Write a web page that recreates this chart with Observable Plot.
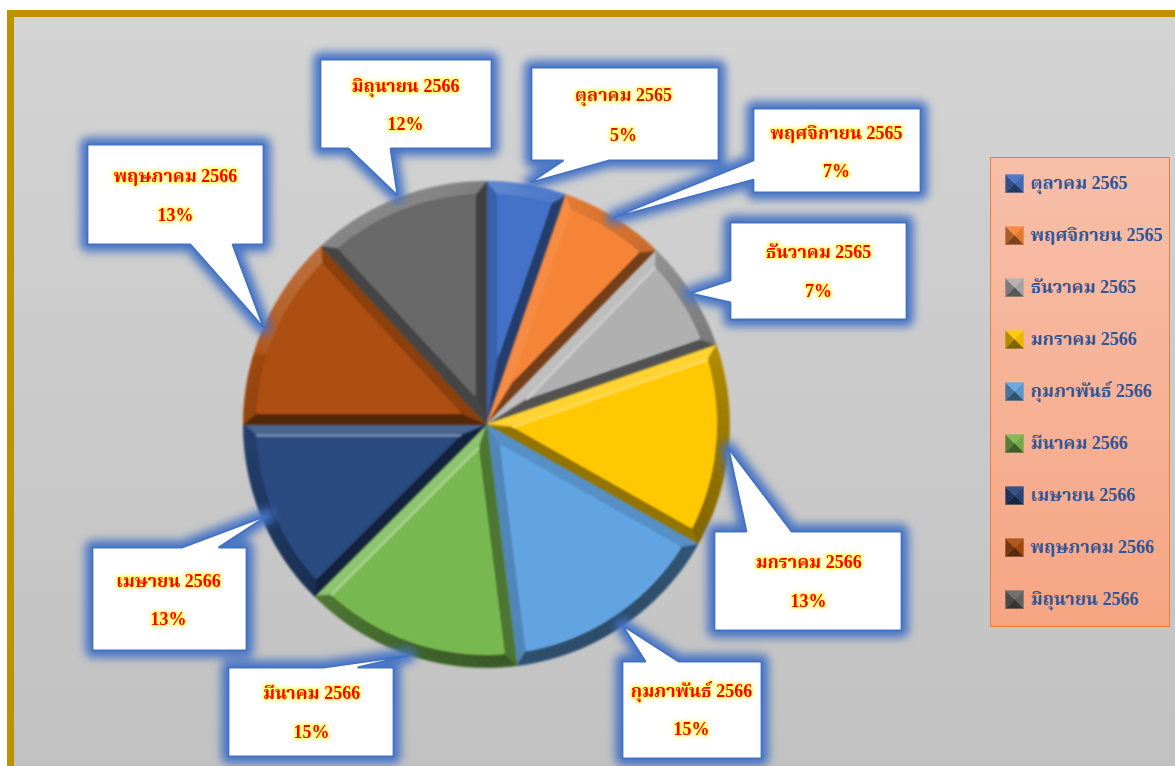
<!DOCTYPE html>
<html><head><meta charset="utf-8">
<script src="https://cdn.jsdelivr.net/npm/d3@7"></script>
<script src="https://cdn.jsdelivr.net/npm/@observablehq/plot@0.6"></script>
<style>
html,body{margin:0;padding:0;background:#fff;overflow:hidden}
#stage{position:relative;width:1175px;height:766px;overflow:hidden}
#frame{position:absolute;left:7px;top:10px;width:1200px;height:800px;border-left:7px solid #bf9000;border-top:7px solid #bf9000;background:linear-gradient(180deg,#d4d4d4,#c0c0c0)}
#legendbg{position:absolute;left:990px;top:157px;width:178px;height:468px;border:1.5px solid #ed7d31;background:linear-gradient(180deg,#f7bfa9,#f6a583)}
#stage svg{position:absolute;left:0;top:0;background:transparent}
</style></head><body>
<div id="stage"><div id="frame"></div><div id="legendbg"></div></div>
<script>
const months = ["ตุลาคม 2565","พฤศจิกายน 2565","ธันวาคม 2565","มกราคม 2566","กุมภาพันธ์ 2566","มีนาคม 2566","เมษายน 2566","พฤษภาคม 2566","มิถุนายน 2566"];
const legendMonths = ["ตุลาคม 2565","พฤศจิกายน 2565","ธันวาคม 2565","มกราคม 2566","กุมภาพันธ์ 2566","มีนาคม 2566","เมษายน 2566","พฤษภาคม 2566","มิถุนายน 2566"];
const shares = [5.3,7.0,7.4,13.5,14.8,14.5,12.5,13.1,11.9];
const percentLabels = ["5%","7%","7%","13%","15%","15%","13%","13%","12%"];
const colors = ["#4472c8","#f58437","#b0b0b0","#ffc800","#62a4e2","#78b850","#2a4a80","#ad4f12","#696969"];

// Layout, in page pixels
const pie = {cx:486, cy:424, r:243, edge:11, rim:13};
const boxes = [
 {l:531,t:67,r:718,b:160,tail:[[608,160],[530,182],[563,160]],side:"b"},
 {l:753,t:108,r:920,b:192,tail:[[753,160],[613,217],[753,179]],side:"l"},
 {l:730,t:222,r:906,b:319,tail:[[730,280],[690,293],[730,302]],side:"l"},
 {l:714,t:531,r:901,b:630,tail:[[746,531],[728,448],[791,531]],side:"t"},
 {l:622,t:661,r:761,b:758,tail:[[645,661],[622,625],[678,661]],side:"t"},
 {l:228,t:667,r:393,b:756,tail:[[323,667],[408,655],[357,667]],side:"t"},
 {l:92,t:547,r:246,b:650,tail:[[182,547],[267,515],[218,547]],side:"t"},
 {l:87,t:144,r:263,b:244,tail:[[232,244],[263,327],[190,244]],side:"b"},
 {l:320,t:59,r:491,b:148,tail:[[390,148],[397,195],[348,148]],side:"b"}
];
const labelPos = [[623,95,135],[836,133,171],[818,252,291],[808,562,601],[691,691,729],[311,693,732],[168,581,619],[175,176,215],[405,86,124]];
const legendLayout = {swatchX:1005, swatchSize:18, textX:1030, firstY:183, stepY:52};

// Shading helpers
const L = {x:-0.45, y:-0.89};
function tone(c, t){ return t>=0 ? d3.interpolateRgb(c,"#fff")(t) : d3.interpolateRgb(c,"#000")(-t); }
function shadeAmt(s){ return s>=0.7 ? 0.05+(s-0.7)*0.5 : -0.08+(s-0.7)*0.27; }
const dot = (nx,ny)=>nx*L.x+ny*L.y;
const P = (a,r)=>[pie.cx+Math.sin(a)*r, pie.cy-Math.cos(a)*r];

const faceRows=[], bandRows=[], highlightRows=[];
let cum=0, total=d3.sum(shares), gid=0;
function poly(target, pts, fill){ const id=gid++; pts.forEach(p=>target.push({id,x:p[0],y:p[1],fill})); }
shares.forEach((v,i)=>{
  const a0=cum/total*2*Math.PI; cum+=v; const a1=cum/total*2*Math.PI;
  const c=colors[i], R=pie.r, Ri=R-pie.rim, w=pie.edge;
  const d=Math.asin(w/Ri), half=(a1-a0)/2, mid=(a0+a1)/2;
  const apex=P(mid, w/Math.sin(half)), O=[pie.cx,pie.cy];
  const n=Math.max(8,Math.ceil((a1-a0)*30));
  const outer=d3.range(n+1).map(k=>a0+(a1-a0)*k/n);
  const inner=d3.range(n+1).map(k=>a0+d+(a1-a0-2*d)*k/n);
  poly(bandRows,[O,...outer.map(a=>P(a,R))],c);
  const s0=dot(-Math.cos(a0),-Math.sin(a0)), s1=dot(Math.cos(a1),Math.sin(a1));
  poly(bandRows,[O,P(a0,R),P(inner[0],Ri),apex],tone(c,shadeAmt(s0)));
  poly(bandRows,[O,P(a1,R),P(inner[n],Ri),apex],tone(c,shadeAmt(s1)));
  for(let k=0;k<n;k++){
    const am=(outer[k]+outer[k+1])/2;
    const s=dot(Math.sin(am),-Math.cos(am));
    poly(bandRows,[P(outer[k],R),P(outer[k+1],R),P(inner[k+1],Ri),P(inner[k],Ri)],tone(c,shadeAmt(s)));
  }
  poly(faceRows,[apex,...inner.map(a=>P(a,Ri))],c);
  if(s0>0.85) poly(highlightRows,[apex,P(inner[0],Ri)],tone(c,0.4));
  if(s1>0.85) poly(highlightRows,[apex,P(inner[n],Ri)],tone(c,0.4));
});

// Callout outlines
function outline(b){
  const T=b.tail; const tl=[b.l,b.t],tr=[b.r,b.t],br=[b.r,b.b],bl=[b.l,b.b];
  if(b.side==="t") return [tl,T[0],T[1],T[2],tr,br,bl];
  if(b.side==="b") return [tl,tr,br,T[0],T[1],T[2],bl];
  return [tl,tr,br,bl,T[2],T[1],T[0]];
}
const calloutRows=[];
boxes.forEach((b,i)=>{const o=outline(b);[...o,o[0]].forEach(p=>calloutRows.push({id:i,x:p[0],y:p[1]}));});

const nameRows=months.map((m,i)=>({t:m,x:labelPos[i][0],y:labelPos[i][1],i}));
const pctRows=percentLabels.map((m,i)=>({t:m,x:labelPos[i][0],y:labelPos[i][2],i}));
const legendRows=legendMonths.map((m,i)=>({t:m,x:legendLayout.textX,y:legendLayout.firstY+i*legendLayout.stepY}));

const swatchRows=[];
colors.forEach((c,i)=>{
  const s=legendLayout.swatchSize,x=legendLayout.swatchX,y=legendLayout.firstY+i*legendLayout.stepY-s/2;
  const ctr=[x+s/2,y+s/2],a=[x,y],b=[x+s,y],e=[x+s,y+s],f=[x,y+s];
  poly(swatchRows,[a,b,ctr],tone(c,0.05));
  poly(swatchRows,[b,e,ctr],tone(c,-0.08));
  poly(swatchRows,[a,f,ctr],tone(c,-0.3));
  poly(swatchRows,[f,e,ctr],tone(c,-0.5));
});

const thai='"Liberation Serif","Noto Serif Thai","Noto Sans Thai","DejaVu Serif",serif';
const poly2=(rows,extra={})=>Plot.line(rows,{x:"x",y:"y",z:"id",fill:"fill",stroke:"fill",strokeWidth:0.6,curve:"linear",...extra});
const redText=d=>d.i===0?"#d81414":"#ff0000";
const textStyle={x:"x",y:"y",text:"t",fill:redText,fontFamily:thai,fontWeight:"bold",fontSize:18,textAnchor:"middle",stroke:"#ffff66",strokeWidth:2.5,strokeOpacity:0.8,paintOrder:"stroke",imageFilter:"drop-shadow(0 0 2px #fff25c)"};
const chart=Plot.plot({
  width:1175,height:766,margin:0,
  x:{axis:null,domain:[0,1175],range:[0,1175]},
  y:{axis:null,domain:[0,766],range:[0,766]},
  color:{type:"identity"},
  style:{background:"transparent"},
  marks:[
    poly2(bandRows,{imageFilter:"blur(0.8px)"}),
    poly2(faceRows,{imageFilter:"blur(0.9px)"}),
    Plot.line(highlightRows,{x:"x",y:"y",z:"id",stroke:"fill",strokeWidth:2.5,curve:"linear",imageFilter:"blur(0.8px)"}),
    Plot.line(calloutRows,{x:"x",y:"y",z:"id",fill:"#4472c4",stroke:"#4472c4",strokeWidth:15,strokeOpacity:0.9,strokeLinejoin:"round",curve:"linear",imageFilter:"blur(4.5px)"}),
    Plot.line(calloutRows,{x:"x",y:"y",z:"id",fill:"#fff",stroke:"#4472c4",strokeWidth:1.8,strokeLinejoin:"miter",curve:"linear"}),
    Plot.text(nameRows,textStyle),
    Plot.text(pctRows,textStyle),
    poly2(swatchRows,{strokeWidth:0.3}),
    Plot.text(legendRows,{x:"x",y:"y",text:"t",fill:"#2f5597",fontFamily:thai,fontWeight:"bold",fontSize:18,textAnchor:"start"})
  ]
});
document.getElementById("stage").appendChild(chart);
</script>
</body></html>
